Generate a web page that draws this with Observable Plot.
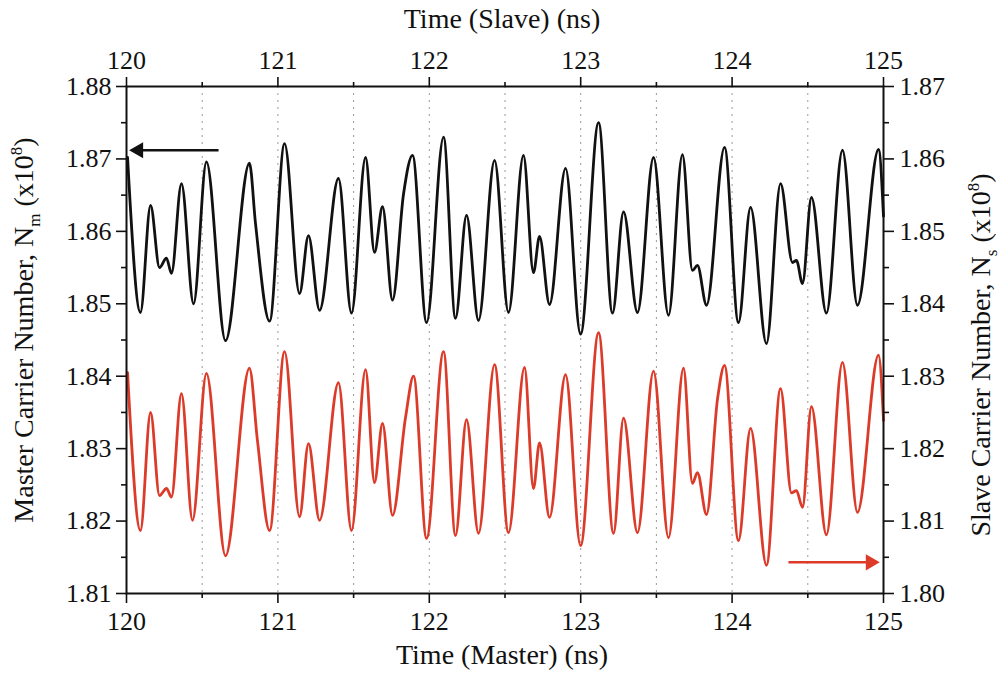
<!DOCTYPE html>
<html><head><meta charset="utf-8">
<script src="https://cdn.jsdelivr.net/npm/d3@7"></script>
<script src="https://cdn.jsdelivr.net/npm/@observablehq/plot@0.6"></script>
<style>body{margin:0;background:#fff}</style>
</head><body><div id="chart"></div>
<script>
// Master carrier number (x1e8) vs time (ns) — peaks, troughs and shoulders
const masterTime = [120.007,120.092,120.159,120.218,120.264,120.297,120.363,120.443,120.528,120.654,
  120.812,120.852,120.945,121.044,121.143,121.202,121.275,121.400,121.486,121.579,
  121.638,121.691,121.757,121.830,121.889,121.982,122.094,122.173,122.246,122.325,
  122.431,122.523,122.622,122.688,122.728,122.794,122.900,122.999,123.118,123.210,
  123.283,123.375,123.481,123.580,123.672,123.738,123.771,123.831,123.950,124.042,
  124.122,124.227,124.320,124.399,124.425,124.465,124.524,124.623,124.729,124.828,
  124.967,125.0];
const masterN = [1.8702,1.8488,1.8636,1.8550,1.8563,1.8542,1.8666,1.8500,1.8696,1.8449,
  1.8694,1.8611,1.8476,1.8721,1.8514,1.8594,1.8491,1.8673,1.8487,1.8702,
  1.8571,1.8634,1.8505,1.8652,1.8705,1.8474,1.8730,1.8480,1.8622,1.8477,
  1.8698,1.8488,1.8705,1.8543,1.8593,1.8499,1.8687,1.8458,1.8750,1.8487,
  1.8627,1.8488,1.8702,1.8484,1.8706,1.8546,1.8553,1.8498,1.8716,1.8474,
  1.8633,1.8445,1.8666,1.8557,1.8560,1.8528,1.8647,1.8487,1.8712,1.8498,
  1.8713,1.8621];
// Slave carrier number (x1e8) vs time (ns)
const slaveTime = [120.007,120.092,120.159,120.218,120.264,120.297,120.363,120.436,120.528,120.654,
  120.812,120.865,120.945,121.044,121.143,121.202,121.275,121.400,121.486,121.579,
  121.638,121.691,121.757,121.843,121.896,121.982,122.094,122.173,122.246,122.325,
  122.431,122.523,122.629,122.688,122.728,122.794,122.900,122.999,123.118,123.217,
  123.283,123.375,123.481,123.580,123.679,123.738,123.771,123.831,123.904,123.950,
  124.042,124.122,124.227,124.320,124.392,124.425,124.465,124.524,124.623,124.729,
  124.828,124.967,125.0];
const slaveN = [1.8305,1.8087,1.8250,1.8135,1.8145,1.8133,1.8276,1.8101,1.8304,1.8052,
  1.8311,1.8211,1.8087,1.8334,1.8106,1.8207,1.8101,1.8291,1.8087,1.8309,
  1.8153,1.8235,1.8108,1.8243,1.8300,1.8076,1.8334,1.8080,1.8240,1.8083,
  1.8316,1.8084,1.8312,1.8145,1.8208,1.8105,1.8302,1.8066,1.8360,1.8083,
  1.8242,1.8084,1.8307,1.8077,1.8311,1.8152,1.8167,1.8109,1.8269,1.8315,
  1.8073,1.8228,1.8039,1.8283,1.8139,1.8142,1.8119,1.8258,1.8081,1.8319,
  1.8112,1.8329,1.8239];

const xTicks = [120,121,122,123,124,125];
const xMinorTicks = [120.5,121.5,122.5,123.5,124.5];
const gridTimes = [120.5,121,121.5,122,122.5,123,123.5,124,124.5];
const masterTicks = [1.81,1.82,1.83,1.84,1.85,1.86,1.87,1.88];
const masterMinorTicks = [1.815,1.825,1.835,1.845,1.855,1.865,1.875];
const slaveOffset = 0.01; // slave axis reads 0.01 lower than master axis at the same height

// annotation arrows: time start, time end, master-scale level
const arrowMaster = {x1: 120.608, x2: 120.079, y: 1.8712};
const arrowSlave = {x1: 124.372, x2: 124.914, y: 1.8143};

const master = masterTime.map((t, i) => ({t, n: masterN[i]}));
const slave = slaveTime.map((t, i) => ({t, n: slaveN[i] + slaveOffset}));
const RED = "#dc3b2a";
const FONT = "'Liberation Serif', 'Times New Roman', serif";

const plot = Plot.plot({
  width: 1002, height: 677,
  marginLeft: 126, marginRight: 119, marginTop: 86, marginBottom: 84,
  style: {fontFamily: FONT, fontSize: "26px", background: "#fff", color: "#111"},
  x: {domain: [120, 125], label: null},
  y: {domain: [1.81, 1.88], label: null},
  marks: [
    Plot.ruleX(gridTimes, {stroke: "#999", strokeDasharray: "2,5", strokeWidth: 1}),
    Plot.line(master, {x: "t", y: "n", stroke: "#111", strokeWidth: 2.8, curve: "monotone-x"}),
    Plot.line(slave, {x: "t", y: "n", stroke: RED, strokeWidth: 2.8, curve: "monotone-x"}),
    // arrows
    Plot.link([arrowMaster], {x1: "x1", x2: "x2", y1: "y", y2: "y", stroke: "#111", strokeWidth: 2.5}),
    Plot.dot([arrowMaster], {x: "x2", y: "y", symbol: "triangle", rotate: -90, r: 6, fill: "#111", stroke: "none"}),
    Plot.link([arrowSlave], {x1: "x1", x2: "x2", y1: "y", y2: "y", stroke: RED, strokeWidth: 2.5}),
    Plot.dot([arrowSlave], {x: "x2", y: "y", symbol: "triangle", rotate: 90, r: 6, fill: RED, stroke: "none"}),
    // axes
    Plot.axisX(xTicks, {anchor: "bottom", tickSize: 10, tickPadding: 8, strokeWidth: 1.6, tickFormat: d => String(d), label: null}),
    Plot.axisX(xMinorTicks, {anchor: "bottom", tickSize: 5, strokeWidth: 1.6, tickFormat: () => "", label: null}),
    Plot.axisX(xTicks, {anchor: "top", tickSize: 10, tickPadding: 8, strokeWidth: 1.6, tickFormat: d => String(d), label: null}),
    Plot.axisX(xMinorTicks, {anchor: "top", tickSize: 5, strokeWidth: 1.6, tickFormat: () => "", label: null}),
    Plot.axisY(masterTicks, {anchor: "left", tickSize: 10, tickPadding: 5, strokeWidth: 1.6, tickFormat: d => d.toFixed(2), label: null}),
    Plot.axisY(masterMinorTicks, {anchor: "left", tickSize: 5, strokeWidth: 1.6, tickFormat: () => "", label: null}),
    Plot.axisY(masterTicks, {anchor: "right", tickSize: 10, tickPadding: 6, strokeWidth: 1.6, tickFormat: d => (d - slaveOffset).toFixed(2), label: null}),
    Plot.axisY(masterMinorTicks, {anchor: "right", tickSize: 5, strokeWidth: 1.6, tickFormat: () => "", label: null}),
    Plot.frame({stroke: "#111", strokeWidth: 2})
  ]
});

const svg = d3.select(plot);
svg.append("text").attr("x", 502).attr("y", 28).attr("text-anchor", "middle")
  .attr("font-size", 28).attr("fill", "#111").text("Time (Slave) (ns)");
svg.append("text").attr("x", 502).attr("y", 664).attr("text-anchor", "middle")
  .attr("font-size", 28).attr("fill", "#111").text("Time (Master) (ns)");

function yTitle(x, y, main, sub) {
  const t = svg.append("text").attr("transform", `translate(${x},${y}) rotate(-90)`)
    .attr("text-anchor", "middle").attr("font-size", 28).attr("fill", "#111");
  t.append("tspan").text(main);
  t.append("tspan").attr("font-size", 17).attr("dy", 7).text(sub);
  t.append("tspan").attr("dy", -7).text(" (x10");
  t.append("tspan").attr("font-size", 17).attr("dy", -11).text("8");
  t.append("tspan").attr("dy", 11).text(")");
}
yTitle(33, 330, "Master Carrier Number, N", "m");
yTitle(990, 355, "Slave Carrier Number, N", "s");

document.getElementById("chart").appendChild(plot);
</script>
</body></html>
